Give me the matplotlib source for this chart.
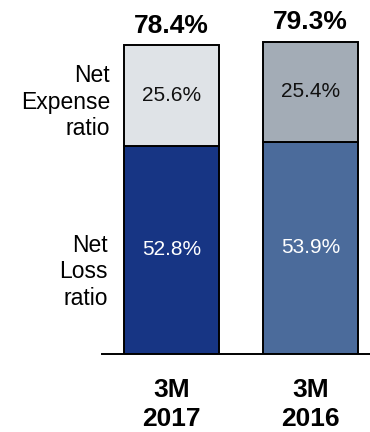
import matplotlib
matplotlib.use("Agg")
import matplotlib.pyplot as plt

plt.rcParams['font.family'] = ['Liberation Sans', 'DejaVu Sans']

# data
periods = ['3M\n2017', '3M\n2016']
loss_ratio = [52.8, 53.9]
expense_ratio = [25.6, 25.4]
combined = [78.4, 79.3]

loss_colors = ['#173584', '#4b6b9b']
expense_colors = ['#dfe3e7', '#a3acb6']

fig = plt.figure(figsize=(3.7, 4.32), dpi=100)
ax = fig.add_axes([102 / 370, 78 / 432, 268 / 370, 354 / 432])

x = [0, 1]
ax.bar(x, loss_ratio, width=0.68, color=loss_colors, edgecolor='black', linewidth=1.4)
ax.bar(x, expense_ratio, width=0.68, bottom=loss_ratio, color=expense_colors,
       edgecolor='black', linewidth=1.4)

for i in x:
    ax.text(i, loss_ratio[i] / 2, f'{loss_ratio[i]}%', ha='center', va='center',
            color='white', fontsize=15)
    ax.text(i, loss_ratio[i] + expense_ratio[i] / 2, f'{expense_ratio[i]}%',
            ha='center', va='center', color='#111111', fontsize=15)
    ax.text(i, combined[i] + 1.8, f'{combined[i]}%', ha='center', va='bottom',
            fontsize=19, fontweight='bold')

ax.set_xlim(-0.5, 1.428)
ax.set_ylim(0, 89.85)
ax.set_xticks(x)
ax.set_xticklabels(periods, fontsize=19, fontweight='bold', linespacing=1.3)
ax.tick_params(axis='x', length=0, pad=17)
ax.set_yticks([])
for s in ['top', 'right', 'left']:
    ax.spines[s].set_visible(False)
ax.spines['bottom'].set_linewidth(1.4)

# row labels
fig.text(110 / 370, 1 - 102 / 432, 'Net\nExpense\nratio', ha='right', va='center',
         fontsize=16.5, linespacing=1.2)
fig.text(108 / 370, 1 - 272 / 432, 'Net\nLoss\nratio', ha='right', va='center',
         fontsize=16.5, linespacing=1.2)

fig.savefig('out.png', dpi=100)
